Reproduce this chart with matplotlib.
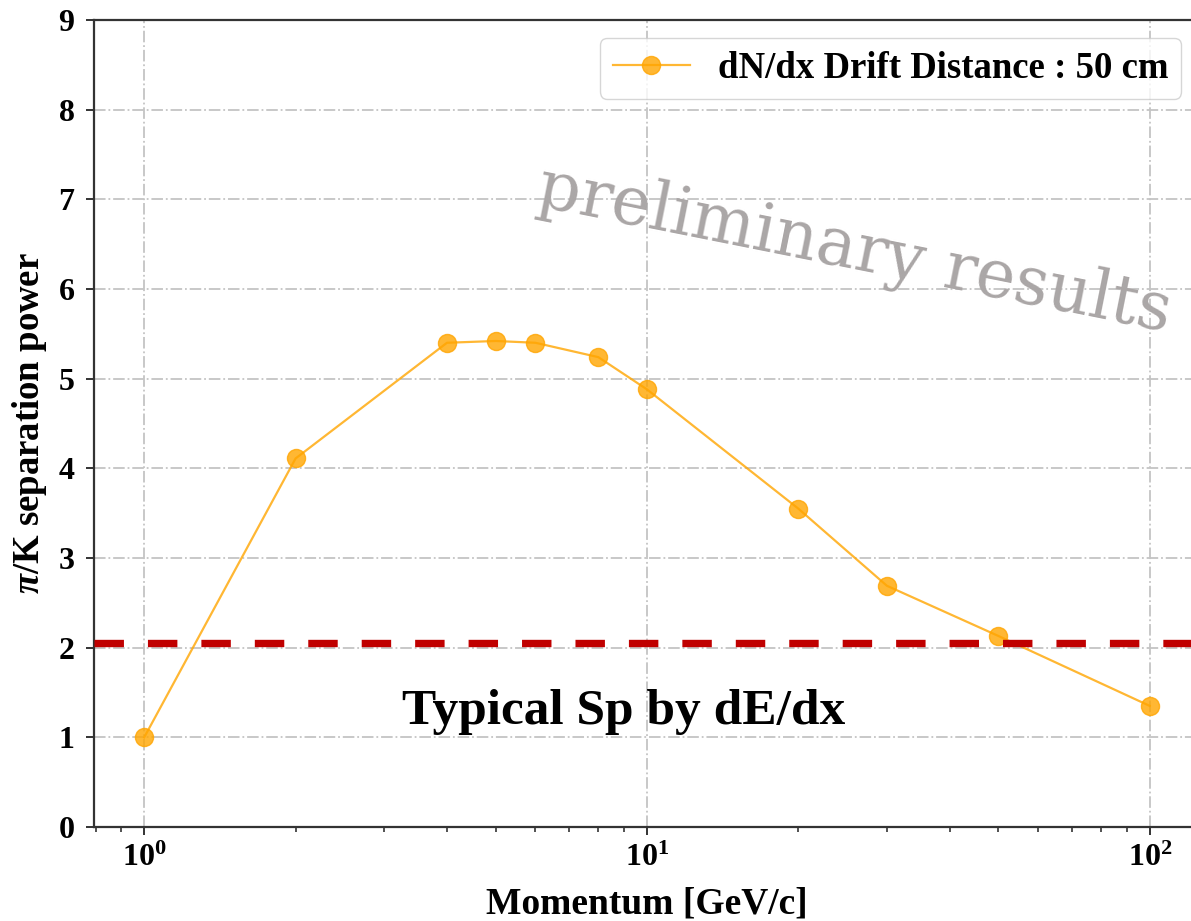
import numpy as np
import matplotlib
matplotlib.use("Agg")
import matplotlib.pyplot as plt
from matplotlib.ticker import FixedLocator, FuncFormatter

plt.rcParams["font.family"] = "Liberation Serif"
plt.rcParams["font.weight"] = "bold"
plt.rcParams["mathtext.fontset"] = "custom"
plt.rcParams["mathtext.rm"] = "Liberation Serif:bold"
plt.rcParams["mathtext.bf"] = "Liberation Serif:bold"
plt.rcParams["mathtext.it"] = "Liberation Serif:italic:bold"

# momentum scan, drift distance 50 cm
momentum = [1, 2, 4, 5, 6, 8, 10, 20, 30, 50, 100]
sep_power = [1.00, 4.11, 5.40, 5.42, 5.40, 5.24, 4.88, 3.55, 2.69, 2.13, 1.35]
dedx_level = 2.05

series_label = "dN/dx Drift Distance : 50 cm"
y_ticks = [0, 1, 2, 3, 4, 5, 6, 7, 8, 9]

fig = plt.figure(figsize=(11.91, 9.21), dpi=100)
ax = fig.add_axes([0.0789, 0.1021, 0.9287, 0.8762])

ax.plot(momentum, sep_power, color="orange", lw=1.6, marker="o",
        markersize=13, markerfacecolor="orange", markeredgecolor="orange",
        alpha=0.8, label=series_label, zorder=3)
ax.axhline(dedx_level, color="#c00000", lw=5.3, dashes=(4.0, 3.26), zorder=4)

ax.set_xscale("log")
ax.set_xlim(10 ** -0.1, 10 ** 2.1)
ax.set_ylim(0, 9)
ax.yaxis.set_major_locator(FixedLocator(y_ticks))
ax.xaxis.set_major_formatter(FuncFormatter(
    lambda v, p: r"$\mathbf{10^{%d}}$" % round(np.log10(v))))

ax.grid(True, which="major", color="#c4c4c4", ls="-.", lw=1.3)
ax.set_axisbelow(True)

for s in ax.spines.values():
    s.set_color("#333333")
    s.set_linewidth(1.6)
ax.tick_params(axis="both", which="major", direction="out", length=6,
               width=1.4, color="#333333", labelsize=23)
ax.tick_params(axis="x", which="minor", direction="out", length=3.5,
               width=1.2, color="#333333")
ax.tick_params(axis="x", which="major", pad=6)
ax.tick_params(axis="y", which="major", pad=8)

ax.set_xlabel("Momentum [GeV/c]", fontsize=27, fontweight="bold", labelpad=10)
ax.set_ylabel(r"$\pi$/K separation power", fontsize=26.5, fontweight="bold",
              labelpad=7)

ax.text(0.479, 0.1276, "Typical Sp by dE/dx", transform=ax.transAxes,
        fontsize=37, fontweight="bold", ha="center", va="baseline")
ax.text(0.399, 0.7708, "preliminary results", transform=ax.transAxes,
        fontsize=48, fontweight="normal", family="DejaVu Serif",
        color="#aaa6a6", ha="left", va="baseline", rotation=-11.3,
        rotation_mode="anchor")

leg = ax.legend(loc="upper right", bbox_to_anchor=(0.9828, 0.9777),
                borderaxespad=0, fontsize=26.5, handlelength=2.09,
                handletextpad=0.76, borderpad=0.35,
                framealpha=0.8, edgecolor="#cccccc", fancybox=True)

fig.savefig("out.png", dpi=100)
